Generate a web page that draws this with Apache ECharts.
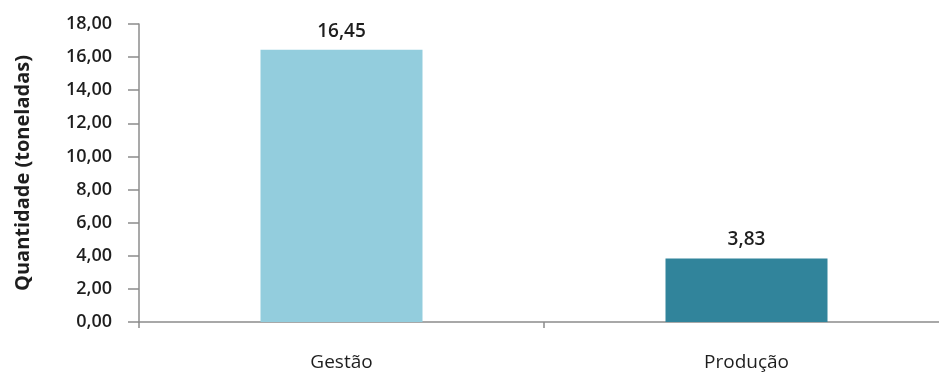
<!DOCTYPE html>
<html><head><meta charset="utf-8">
<script src="https://cdn.jsdelivr.net/npm/echarts@6/dist/echarts.min.js"></script>
<style>html,body{margin:0;padding:0;background:#fff}#c{width:939px;height:378px}</style>
</head><body><div id="c"></div>
<script>
const categories = ['Gestão', 'Produção'];
const values = [16.45, 3.83];
const barColors = ['#93CDDD', '#31849B'];
const yTitle = 'Quantidade (toneladas)';
const fmt = v => v.toFixed(2).replace('.', ',');
const chart = echarts.init(document.getElementById('c'));
const font = 'Open Sans';
chart.setOption({
  animation: false,
  grid: { left: 139, right: -10, top: 24, bottom: 56, containLabel: false, outerBoundsMode: 'none' },
  xAxis: {
    type: 'category', data: categories,
    axisLine: { lineStyle: { color: '#8c8c8c', width: 1.5 } },
    axisTick: { show: true, length: 6, alignWithLabel: false, lineStyle: { color: '#8c8c8c', width: 1.5 } },
    axisLabel: { color: '#1e1e1e', fontFamily: font, fontSize: 19, margin: 31 }
  },
  yAxis: {
    type: 'value', min: 0, max: 18, interval: 2,
    name: yTitle, nameLocation: 'middle', nameGap: 106, nameRotate: 90,
    nameTextStyle: { color: '#1e1e1e', fontFamily: font, fontSize: 20, fontWeight: 'bold' },
    axisLine: { show: true, lineStyle: { color: '#8c8c8c', width: 1.5 } },
    axisTick: { show: true, length: 11, lineStyle: { color: '#8c8c8c', width: 1.5 } },
    axisLabel: { color: '#1e1e1e', fontFamily: font, fontSize: 18, fontWeight: 600, margin: 27, formatter: v => fmt(v) },
    splitLine: { show: false }
  },
  series: [{
    type: 'bar', barWidth: 162,
    data: values.map((v, i) => ({ value: v, itemStyle: { color: barColors[i] } })),
    label: { show: true, position: 'top', distance: 9, color: '#1e1e1e', fontFamily: font, fontSize: 19, fontWeight: 600, formatter: p => fmt(p.value) }
  }]
});
</script></body></html>
